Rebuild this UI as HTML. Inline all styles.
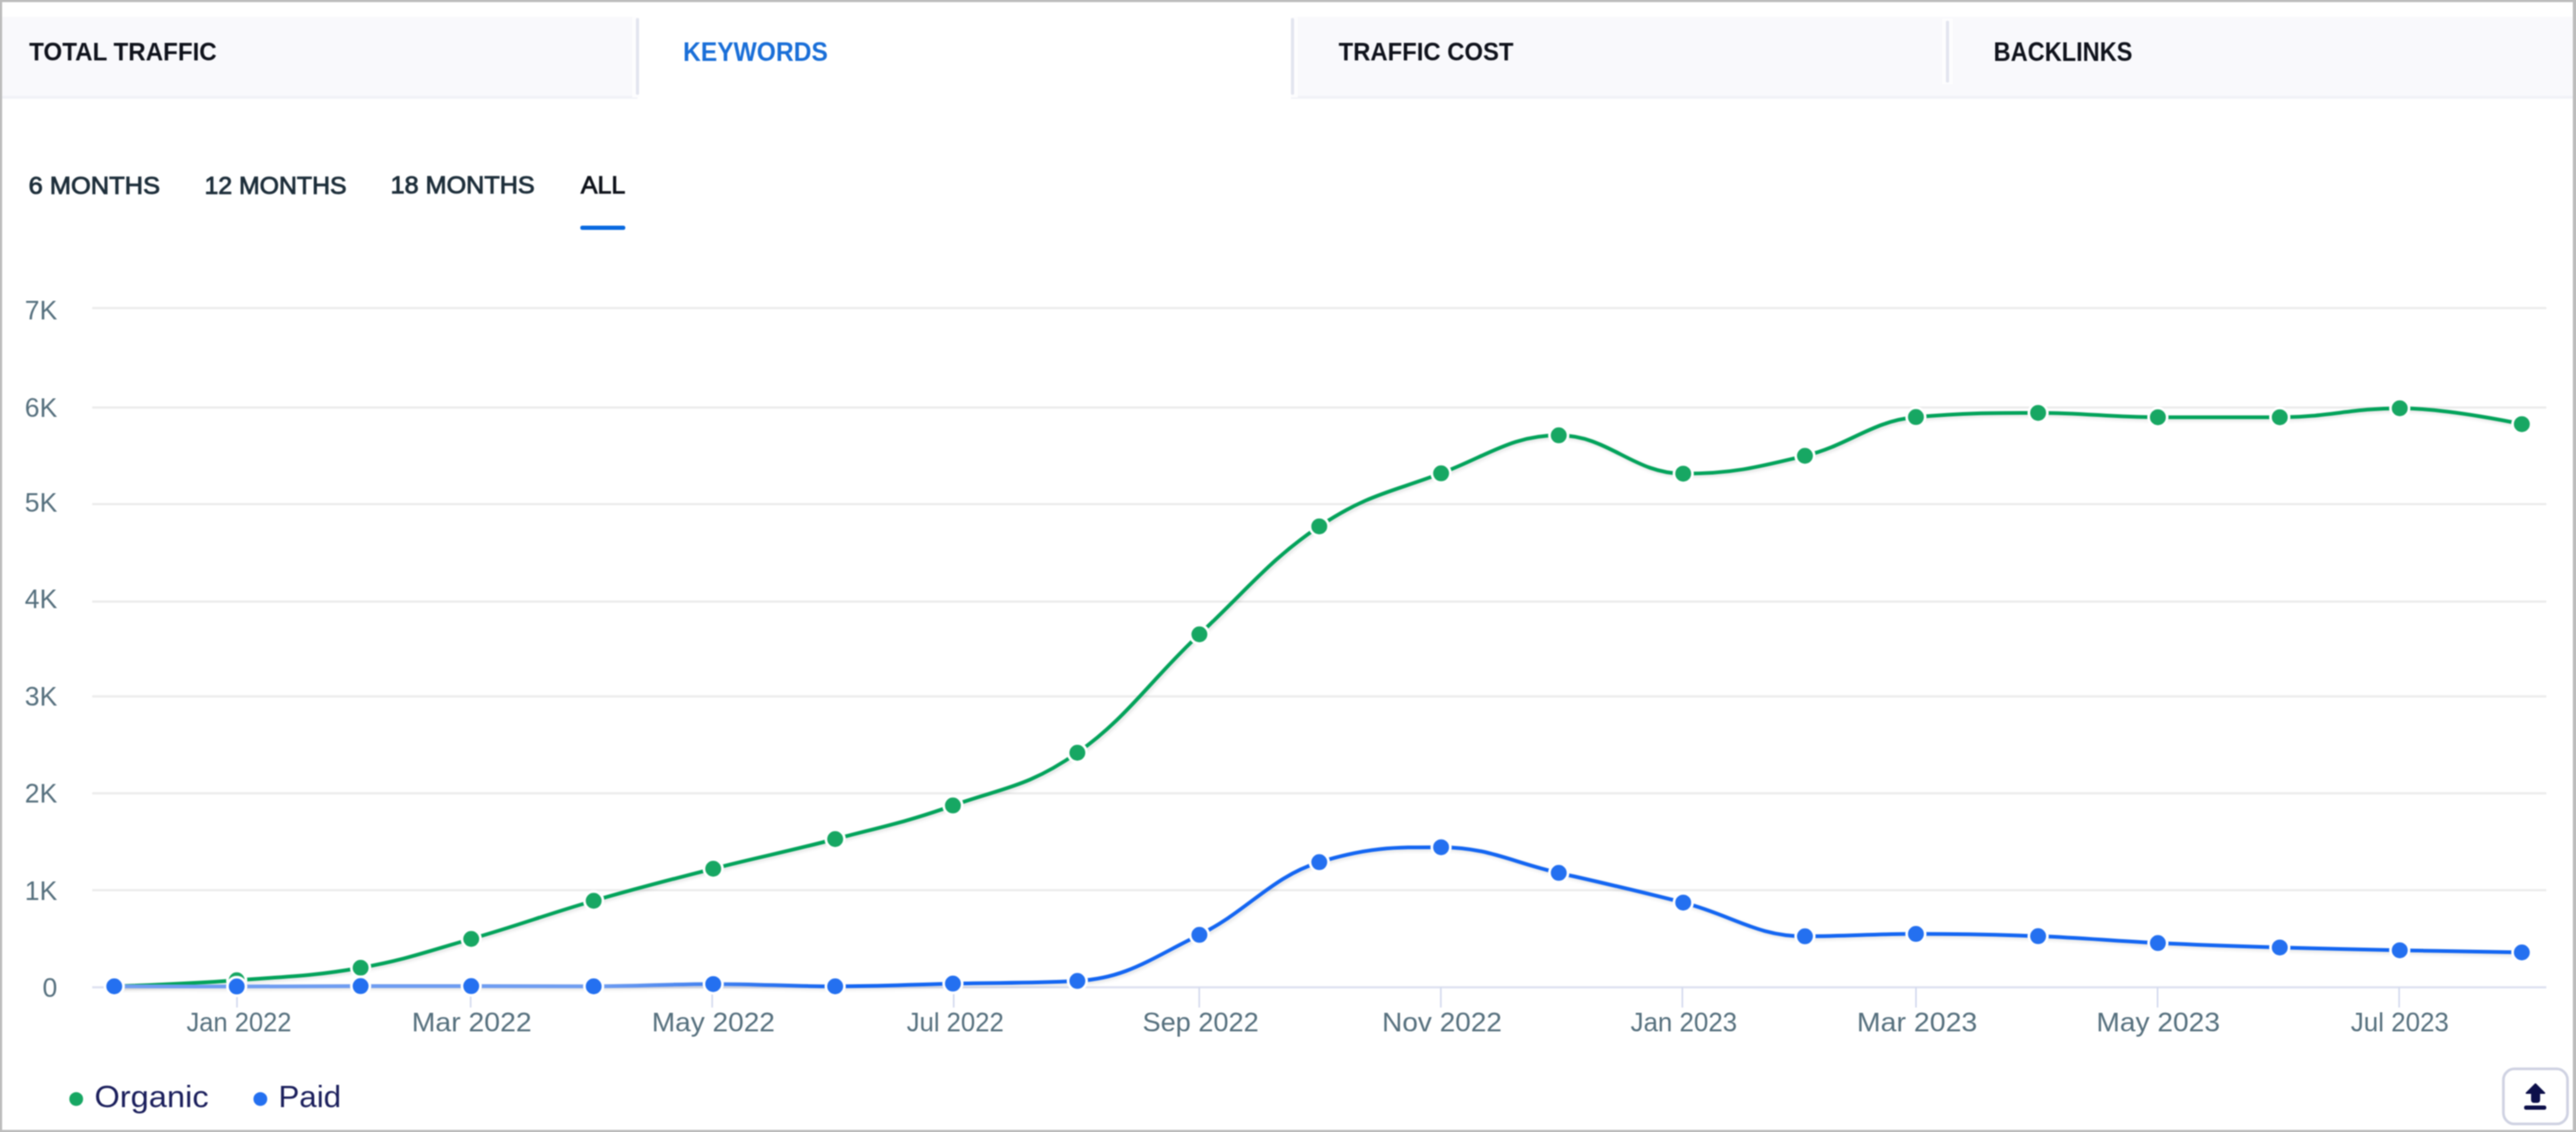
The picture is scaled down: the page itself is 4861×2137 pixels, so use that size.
<!DOCTYPE html><html><head><meta charset="utf-8"><style>html,body{margin:0;padding:0;background:#bdbdbd;overflow:hidden}svg{display:block;filter:blur(0.9px)}</style></head><body>
<svg width="4861" height="2137" viewBox="0 0 4861 2137" font-family="'Liberation Sans', sans-serif">
<rect x="0" y="0" width="4861" height="2137" fill="#bdbdbd"/>
<rect x="4" y="4" width="4851" height="2129" fill="#ffffff"/>
<rect x="4" y="32" width="1199" height="155" fill="#f9f9fc"/>
<rect x="4" y="181" width="1199" height="5" fill="#f1f2f7"/>
<rect x="1193" y="32" width="13" height="152" fill="#fdfdfe"/>
<rect x="1200" y="34" width="6" height="145" rx="3" fill="#e3e5ef"/>
<rect x="2436" y="32" width="2419" height="155" fill="#f9f9fc"/>
<rect x="2436" y="181" width="2419" height="5" fill="#f1f2f7"/>
<rect x="2436" y="32" width="13" height="152" fill="#fdfdfe"/>
<rect x="2436" y="34" width="6" height="145" rx="3" fill="#e3e5ef"/>
<rect x="3665" y="35" width="20" height="124" fill="#fdfdfe"/>
<rect x="3672" y="39" width="6" height="117" rx="3" fill="#e3e5ef"/>
<text x="55.0" y="114.0" font-size="48.0" font-weight="bold" fill="#10131c" textLength="354.0" lengthAdjust="spacingAndGlyphs" >TOTAL TRAFFIC</text>
<text x="1289.0" y="115.0" font-size="49.4" font-weight="bold" fill="#1a6fd8" textLength="273.1" lengthAdjust="spacingAndGlyphs" >KEYWORDS</text>
<text x="2526.0" y="114.0" font-size="48.0" font-weight="bold" fill="#10131c" textLength="330.0" lengthAdjust="spacingAndGlyphs" >TRAFFIC COST</text>
<text x="3762.0" y="115.0" font-size="49.4" font-weight="bold" fill="#10131c" textLength="262.0" lengthAdjust="spacingAndGlyphs" >BACKLINKS</text>
<text x="54.0" y="366.0" font-size="46.5" font-weight="normal" fill="#1e2f3b" textLength="248.0" lengthAdjust="spacingAndGlyphs" stroke="#1e2f3b" stroke-width="1.6">6 MONTHS</text>
<text x="386.0" y="366.0" font-size="46.5" font-weight="normal" fill="#1e2f3b" textLength="268.0" lengthAdjust="spacingAndGlyphs" stroke="#1e2f3b" stroke-width="1.6">12 MONTHS</text>
<text x="737.0" y="365.0" font-size="46.5" font-weight="normal" fill="#1e2f3b" textLength="272.0" lengthAdjust="spacingAndGlyphs" stroke="#1e2f3b" stroke-width="1.6">18 MONTHS</text>
<text x="1096.0" y="365.0" font-size="46.5" font-weight="normal" fill="#0f131b" textLength="84.0" lengthAdjust="spacingAndGlyphs" stroke="#0f131b" stroke-width="1.6">ALL</text>
<rect x="1095" y="426" width="85" height="8" rx="4" fill="#0a6ae0"/>
<rect x="174" y="579.6" width="4631" height="4" fill="#ebebeb"/>
<rect x="174" y="767.3" width="4631" height="4" fill="#ebebeb"/>
<rect x="174" y="949.7" width="4631" height="4" fill="#ebebeb"/>
<rect x="174" y="1133.7" width="4631" height="4" fill="#ebebeb"/>
<rect x="174" y="1312.6" width="4631" height="4" fill="#ebebeb"/>
<rect x="174" y="1495.6" width="4631" height="4" fill="#ebebeb"/>
<rect x="174" y="1678.5" width="4631" height="4" fill="#ebebeb"/>
<rect x="174" y="1861.8" width="4631" height="4" fill="#dde1f0"/>
<text x="108" y="603.2" font-size="50" fill="#56707e" text-anchor="end">7K</text>
<text x="108" y="787.2" font-size="50" fill="#56707e" text-anchor="end">6K</text>
<text x="108" y="966.2" font-size="50" fill="#56707e" text-anchor="end">5K</text>
<text x="108" y="1148.2" font-size="50" fill="#56707e" text-anchor="end">4K</text>
<text x="108" y="1332.2" font-size="50" fill="#56707e" text-anchor="end">3K</text>
<text x="108" y="1515.2" font-size="50" fill="#56707e" text-anchor="end">2K</text>
<text x="108" y="1699.2" font-size="50" fill="#56707e" text-anchor="end">1K</text>
<text x="108" y="1882.2" font-size="50" fill="#56707e" text-anchor="end">0</text>
<rect x="445.7" y="1864" width="3" height="38" fill="#d3d9ee"/>
<text x="352.0" y="1947" font-size="50" fill="#56707e" textLength="198.0" lengthAdjust="spacingAndGlyphs">Jan 2022</text>
<rect x="886.6" y="1864" width="3" height="38" fill="#d3d9ee"/>
<text x="777.0" y="1947" font-size="50" fill="#56707e" textLength="226.2" lengthAdjust="spacingAndGlyphs">Mar 2022</text>
<rect x="1342.4" y="1864" width="3" height="38" fill="#d3d9ee"/>
<text x="1230.0" y="1947" font-size="50" fill="#56707e" textLength="232.2" lengthAdjust="spacingAndGlyphs">May 2022</text>
<rect x="1798.2" y="1864" width="3" height="38" fill="#d3d9ee"/>
<text x="1711.0" y="1947" font-size="50" fill="#56707e" textLength="183.1" lengthAdjust="spacingAndGlyphs">Jul 2022</text>
<rect x="2261.5" y="1864" width="3" height="38" fill="#d3d9ee"/>
<text x="2156.0" y="1947" font-size="50" fill="#56707e" textLength="219.2" lengthAdjust="spacingAndGlyphs">Sep 2022</text>
<rect x="2717.4" y="1864" width="3" height="38" fill="#d3d9ee"/>
<text x="2608.0" y="1947" font-size="50" fill="#56707e" textLength="226.2" lengthAdjust="spacingAndGlyphs">Nov 2022</text>
<rect x="3173.2" y="1864" width="3" height="38" fill="#d3d9ee"/>
<text x="3077.0" y="1947" font-size="50" fill="#56707e" textLength="201.0" lengthAdjust="spacingAndGlyphs">Jan 2023</text>
<rect x="3614.0" y="1864" width="3" height="38" fill="#d3d9ee"/>
<text x="3504.0" y="1947" font-size="50" fill="#56707e" textLength="227.2" lengthAdjust="spacingAndGlyphs">Mar 2023</text>
<rect x="4069.9" y="1864" width="3" height="38" fill="#d3d9ee"/>
<text x="3956.0" y="1947" font-size="50" fill="#56707e" textLength="233.2" lengthAdjust="spacingAndGlyphs">May 2023</text>
<rect x="4525.7" y="1864" width="3" height="38" fill="#d3d9ee"/>
<text x="4436.0" y="1947" font-size="50" fill="#56707e" textLength="185.1" lengthAdjust="spacingAndGlyphs">Jul 2023</text>
<path d="M 215.60 1862.00 C 215.60 1862.00 354.26 1857.46 446.70 1850.50 C 540.22 1843.46 586.98 1843.48 680.50 1827.00 C 763.98 1812.28 805.72 1796.51 889.20 1772.50 C 981.64 1745.91 1027.86 1727.32 1120.30 1700.50 C 1210.54 1674.32 1255.66 1663.07 1345.90 1640.00 C 1437.94 1616.47 1483.96 1608.30 1576.00 1584.00 C 1664.88 1560.54 1709.32 1552.30 1798.20 1520.60 C 1892.12 1487.10 1939.08 1486.25 2033.00 1421.00 C 2125.12 1357.01 2171.18 1283.73 2263.30 1197.50 C 2353.78 1112.81 2399.02 1053.99 2489.50 993.70 C 2581.46 932.43 2627.44 928.58 2719.40 893.60 C 2808.20 859.82 2852.60 821.80 2941.40 821.80 C 3035.36 821.80 3082.34 894.20 3176.30 894.20 C 3268.18 894.20 3314.12 882.87 3406.00 860.50 C 3489.76 840.11 3531.64 795.20 3615.40 787.30 C 3707.64 779.40 3753.76 779.40 3846.00 779.40 C 3936.40 779.40 3981.60 787.70 4072.00 787.70 C 4164.00 787.70 4210.00 787.70 4302.00 787.70 C 4392.56 787.70 4437.84 770.70 4528.40 770.70 C 4620.56 770.70 4758.80 800.70 4758.80 800.70" fill="none" stroke="#000" stroke-opacity="0.015" stroke-width="18" transform="translate(3,3)" stroke-linejoin="round"/>
<path d="M 215.60 1862.00 C 215.60 1862.00 354.26 1857.46 446.70 1850.50 C 540.22 1843.46 586.98 1843.48 680.50 1827.00 C 763.98 1812.28 805.72 1796.51 889.20 1772.50 C 981.64 1745.91 1027.86 1727.32 1120.30 1700.50 C 1210.54 1674.32 1255.66 1663.07 1345.90 1640.00 C 1437.94 1616.47 1483.96 1608.30 1576.00 1584.00 C 1664.88 1560.54 1709.32 1552.30 1798.20 1520.60 C 1892.12 1487.10 1939.08 1486.25 2033.00 1421.00 C 2125.12 1357.01 2171.18 1283.73 2263.30 1197.50 C 2353.78 1112.81 2399.02 1053.99 2489.50 993.70 C 2581.46 932.43 2627.44 928.58 2719.40 893.60 C 2808.20 859.82 2852.60 821.80 2941.40 821.80 C 3035.36 821.80 3082.34 894.20 3176.30 894.20 C 3268.18 894.20 3314.12 882.87 3406.00 860.50 C 3489.76 840.11 3531.64 795.20 3615.40 787.30 C 3707.64 779.40 3753.76 779.40 3846.00 779.40 C 3936.40 779.40 3981.60 787.70 4072.00 787.70 C 4164.00 787.70 4210.00 787.70 4302.00 787.70 C 4392.56 787.70 4437.84 770.70 4528.40 770.70 C 4620.56 770.70 4758.80 800.70 4758.80 800.70" fill="none" stroke="#000" stroke-opacity="0.025" stroke-width="12" transform="translate(3,3)" stroke-linejoin="round"/>
<path d="M 215.60 1862.00 C 215.60 1862.00 354.26 1857.46 446.70 1850.50 C 540.22 1843.46 586.98 1843.48 680.50 1827.00 C 763.98 1812.28 805.72 1796.51 889.20 1772.50 C 981.64 1745.91 1027.86 1727.32 1120.30 1700.50 C 1210.54 1674.32 1255.66 1663.07 1345.90 1640.00 C 1437.94 1616.47 1483.96 1608.30 1576.00 1584.00 C 1664.88 1560.54 1709.32 1552.30 1798.20 1520.60 C 1892.12 1487.10 1939.08 1486.25 2033.00 1421.00 C 2125.12 1357.01 2171.18 1283.73 2263.30 1197.50 C 2353.78 1112.81 2399.02 1053.99 2489.50 993.70 C 2581.46 932.43 2627.44 928.58 2719.40 893.60 C 2808.20 859.82 2852.60 821.80 2941.40 821.80 C 3035.36 821.80 3082.34 894.20 3176.30 894.20 C 3268.18 894.20 3314.12 882.87 3406.00 860.50 C 3489.76 840.11 3531.64 795.20 3615.40 787.30 C 3707.64 779.40 3753.76 779.40 3846.00 779.40 C 3936.40 779.40 3981.60 787.70 4072.00 787.70 C 4164.00 787.70 4210.00 787.70 4302.00 787.70 C 4392.56 787.70 4437.84 770.70 4528.40 770.70 C 4620.56 770.70 4758.80 800.70 4758.80 800.70" fill="none" stroke="#000" stroke-opacity="0.035" stroke-width="8" transform="translate(3,3)" stroke-linejoin="round"/>
<path d="M 215.60 1862.00 C 215.60 1862.00 354.26 1857.46 446.70 1850.50 C 540.22 1843.46 586.98 1843.48 680.50 1827.00 C 763.98 1812.28 805.72 1796.51 889.20 1772.50 C 981.64 1745.91 1027.86 1727.32 1120.30 1700.50 C 1210.54 1674.32 1255.66 1663.07 1345.90 1640.00 C 1437.94 1616.47 1483.96 1608.30 1576.00 1584.00 C 1664.88 1560.54 1709.32 1552.30 1798.20 1520.60 C 1892.12 1487.10 1939.08 1486.25 2033.00 1421.00 C 2125.12 1357.01 2171.18 1283.73 2263.30 1197.50 C 2353.78 1112.81 2399.02 1053.99 2489.50 993.70 C 2581.46 932.43 2627.44 928.58 2719.40 893.60 C 2808.20 859.82 2852.60 821.80 2941.40 821.80 C 3035.36 821.80 3082.34 894.20 3176.30 894.20 C 3268.18 894.20 3314.12 882.87 3406.00 860.50 C 3489.76 840.11 3531.64 795.20 3615.40 787.30 C 3707.64 779.40 3753.76 779.40 3846.00 779.40 C 3936.40 779.40 3981.60 787.70 4072.00 787.70 C 4164.00 787.70 4210.00 787.70 4302.00 787.70 C 4392.56 787.70 4437.84 770.70 4528.40 770.70 C 4620.56 770.70 4758.80 800.70 4758.80 800.70" fill="none" stroke="#03a35b" stroke-width="7" stroke-linecap="round" stroke-linejoin="round"/>
<circle cx="215.6" cy="1862.0" r="17.5" fill="#17a763" stroke="#fff" stroke-width="5"/>
<circle cx="446.7" cy="1850.5" r="17.5" fill="#17a763" stroke="#fff" stroke-width="5"/>
<circle cx="680.5" cy="1827.0" r="17.5" fill="#17a763" stroke="#fff" stroke-width="5"/>
<circle cx="889.2" cy="1772.5" r="17.5" fill="#17a763" stroke="#fff" stroke-width="5"/>
<circle cx="1120.3" cy="1700.5" r="17.5" fill="#17a763" stroke="#fff" stroke-width="5"/>
<circle cx="1345.9" cy="1640.0" r="17.5" fill="#17a763" stroke="#fff" stroke-width="5"/>
<circle cx="1576.0" cy="1584.0" r="17.5" fill="#17a763" stroke="#fff" stroke-width="5"/>
<circle cx="1798.2" cy="1520.6" r="17.5" fill="#17a763" stroke="#fff" stroke-width="5"/>
<circle cx="2033.0" cy="1421.0" r="17.5" fill="#17a763" stroke="#fff" stroke-width="5"/>
<circle cx="2263.3" cy="1197.5" r="17.5" fill="#17a763" stroke="#fff" stroke-width="5"/>
<circle cx="2489.5" cy="993.7" r="17.5" fill="#17a763" stroke="#fff" stroke-width="5"/>
<circle cx="2719.4" cy="893.6" r="17.5" fill="#17a763" stroke="#fff" stroke-width="5"/>
<circle cx="2941.4" cy="821.8" r="17.5" fill="#17a763" stroke="#fff" stroke-width="5"/>
<circle cx="3176.3" cy="894.2" r="17.5" fill="#17a763" stroke="#fff" stroke-width="5"/>
<circle cx="3406.0" cy="860.5" r="17.5" fill="#17a763" stroke="#fff" stroke-width="5"/>
<circle cx="3615.4" cy="787.3" r="17.5" fill="#17a763" stroke="#fff" stroke-width="5"/>
<circle cx="3846.0" cy="779.4" r="17.5" fill="#17a763" stroke="#fff" stroke-width="5"/>
<circle cx="4072.0" cy="787.7" r="17.5" fill="#17a763" stroke="#fff" stroke-width="5"/>
<circle cx="4302.0" cy="787.7" r="17.5" fill="#17a763" stroke="#fff" stroke-width="5"/>
<circle cx="4528.4" cy="770.7" r="17.5" fill="#17a763" stroke="#fff" stroke-width="5"/>
<circle cx="4758.8" cy="800.7" r="17.5" fill="#17a763" stroke="#fff" stroke-width="5"/>
<path d="M 215.60 1862.00 C 215.60 1862.00 354.26 1862.30 446.70 1862.30 C 540.22 1862.30 586.98 1861.60 680.50 1861.60 C 763.98 1861.60 805.72 1861.60 889.20 1861.60 C 981.64 1861.60 1027.86 1862.00 1120.30 1862.00 C 1210.54 1862.00 1255.66 1857.70 1345.90 1857.70 C 1437.94 1857.70 1483.96 1862.00 1576.00 1862.00 C 1664.88 1862.00 1709.32 1858.78 1798.20 1856.80 C 1892.12 1854.70 1939.08 1856.80 2033.00 1851.80 C 2125.12 1846.80 2171.18 1810.04 2263.30 1764.80 C 2353.78 1720.36 2399.02 1655.80 2489.50 1627.60 C 2581.46 1599.40 2627.44 1599.40 2719.40 1599.40 C 2808.20 1599.40 2852.60 1627.49 2941.40 1647.80 C 3035.36 1669.29 3082.34 1679.67 3176.30 1703.90 C 3268.18 1727.59 3314.12 1767.60 3406.00 1767.60 C 3489.76 1767.60 3531.64 1763.10 3615.40 1763.10 C 3707.64 1763.10 3753.76 1763.83 3846.00 1767.30 C 3936.40 1770.71 3981.60 1776.06 4072.00 1780.30 C 4164.00 1784.62 4210.00 1785.96 4302.00 1788.70 C 4392.56 1791.40 4437.84 1792.06 4528.40 1793.90 C 4620.56 1795.78 4758.80 1798.00 4758.80 1798.00" fill="none" stroke="#000" stroke-opacity="0.015" stroke-width="18" transform="translate(3,3)" stroke-linejoin="round"/>
<path d="M 215.60 1862.00 C 215.60 1862.00 354.26 1862.30 446.70 1862.30 C 540.22 1862.30 586.98 1861.60 680.50 1861.60 C 763.98 1861.60 805.72 1861.60 889.20 1861.60 C 981.64 1861.60 1027.86 1862.00 1120.30 1862.00 C 1210.54 1862.00 1255.66 1857.70 1345.90 1857.70 C 1437.94 1857.70 1483.96 1862.00 1576.00 1862.00 C 1664.88 1862.00 1709.32 1858.78 1798.20 1856.80 C 1892.12 1854.70 1939.08 1856.80 2033.00 1851.80 C 2125.12 1846.80 2171.18 1810.04 2263.30 1764.80 C 2353.78 1720.36 2399.02 1655.80 2489.50 1627.60 C 2581.46 1599.40 2627.44 1599.40 2719.40 1599.40 C 2808.20 1599.40 2852.60 1627.49 2941.40 1647.80 C 3035.36 1669.29 3082.34 1679.67 3176.30 1703.90 C 3268.18 1727.59 3314.12 1767.60 3406.00 1767.60 C 3489.76 1767.60 3531.64 1763.10 3615.40 1763.10 C 3707.64 1763.10 3753.76 1763.83 3846.00 1767.30 C 3936.40 1770.71 3981.60 1776.06 4072.00 1780.30 C 4164.00 1784.62 4210.00 1785.96 4302.00 1788.70 C 4392.56 1791.40 4437.84 1792.06 4528.40 1793.90 C 4620.56 1795.78 4758.80 1798.00 4758.80 1798.00" fill="none" stroke="#000" stroke-opacity="0.025" stroke-width="12" transform="translate(3,3)" stroke-linejoin="round"/>
<path d="M 215.60 1862.00 C 215.60 1862.00 354.26 1862.30 446.70 1862.30 C 540.22 1862.30 586.98 1861.60 680.50 1861.60 C 763.98 1861.60 805.72 1861.60 889.20 1861.60 C 981.64 1861.60 1027.86 1862.00 1120.30 1862.00 C 1210.54 1862.00 1255.66 1857.70 1345.90 1857.70 C 1437.94 1857.70 1483.96 1862.00 1576.00 1862.00 C 1664.88 1862.00 1709.32 1858.78 1798.20 1856.80 C 1892.12 1854.70 1939.08 1856.80 2033.00 1851.80 C 2125.12 1846.80 2171.18 1810.04 2263.30 1764.80 C 2353.78 1720.36 2399.02 1655.80 2489.50 1627.60 C 2581.46 1599.40 2627.44 1599.40 2719.40 1599.40 C 2808.20 1599.40 2852.60 1627.49 2941.40 1647.80 C 3035.36 1669.29 3082.34 1679.67 3176.30 1703.90 C 3268.18 1727.59 3314.12 1767.60 3406.00 1767.60 C 3489.76 1767.60 3531.64 1763.10 3615.40 1763.10 C 3707.64 1763.10 3753.76 1763.83 3846.00 1767.30 C 3936.40 1770.71 3981.60 1776.06 4072.00 1780.30 C 4164.00 1784.62 4210.00 1785.96 4302.00 1788.70 C 4392.56 1791.40 4437.84 1792.06 4528.40 1793.90 C 4620.56 1795.78 4758.80 1798.00 4758.80 1798.00" fill="none" stroke="#000" stroke-opacity="0.035" stroke-width="8" transform="translate(3,3)" stroke-linejoin="round"/>
<defs><linearGradient id="pg" gradientUnits="userSpaceOnUse" x1="216" y1="0" x2="4759" y2="0"><stop offset="0" stop-color="#6f9df1"/><stop offset="0.20" stop-color="#6f9df1"/><stop offset="0.25" stop-color="#3f7ff0"/><stop offset="0.30" stop-color="#1466f2"/><stop offset="1" stop-color="#1466f2"/></linearGradient></defs>
<path d="M 215.60 1862.00 C 215.60 1862.00 354.26 1862.30 446.70 1862.30 C 540.22 1862.30 586.98 1861.60 680.50 1861.60 C 763.98 1861.60 805.72 1861.60 889.20 1861.60 C 981.64 1861.60 1027.86 1862.00 1120.30 1862.00 C 1210.54 1862.00 1255.66 1857.70 1345.90 1857.70 C 1437.94 1857.70 1483.96 1862.00 1576.00 1862.00 C 1664.88 1862.00 1709.32 1858.78 1798.20 1856.80 C 1892.12 1854.70 1939.08 1856.80 2033.00 1851.80 C 2125.12 1846.80 2171.18 1810.04 2263.30 1764.80 C 2353.78 1720.36 2399.02 1655.80 2489.50 1627.60 C 2581.46 1599.40 2627.44 1599.40 2719.40 1599.40 C 2808.20 1599.40 2852.60 1627.49 2941.40 1647.80 C 3035.36 1669.29 3082.34 1679.67 3176.30 1703.90 C 3268.18 1727.59 3314.12 1767.60 3406.00 1767.60 C 3489.76 1767.60 3531.64 1763.10 3615.40 1763.10 C 3707.64 1763.10 3753.76 1763.83 3846.00 1767.30 C 3936.40 1770.71 3981.60 1776.06 4072.00 1780.30 C 4164.00 1784.62 4210.00 1785.96 4302.00 1788.70 C 4392.56 1791.40 4437.84 1792.06 4528.40 1793.90 C 4620.56 1795.78 4758.80 1798.00 4758.80 1798.00" fill="none" stroke="url(#pg)" stroke-width="7" stroke-linecap="round" stroke-linejoin="round"/>
<circle cx="215.6" cy="1862.0" r="17.5" fill="#2470f0" stroke="#fff" stroke-width="5"/>
<circle cx="446.7" cy="1862.3" r="17.5" fill="#2470f0" stroke="#fff" stroke-width="5"/>
<circle cx="680.5" cy="1861.6" r="17.5" fill="#2470f0" stroke="#fff" stroke-width="5"/>
<circle cx="889.2" cy="1861.6" r="17.5" fill="#2470f0" stroke="#fff" stroke-width="5"/>
<circle cx="1120.3" cy="1862.0" r="17.5" fill="#2470f0" stroke="#fff" stroke-width="5"/>
<circle cx="1345.9" cy="1857.7" r="17.5" fill="#2470f0" stroke="#fff" stroke-width="5"/>
<circle cx="1576.0" cy="1862.0" r="17.5" fill="#2470f0" stroke="#fff" stroke-width="5"/>
<circle cx="1798.2" cy="1856.8" r="17.5" fill="#2470f0" stroke="#fff" stroke-width="5"/>
<circle cx="2033.0" cy="1851.8" r="17.5" fill="#2470f0" stroke="#fff" stroke-width="5"/>
<circle cx="2263.3" cy="1764.8" r="17.5" fill="#2470f0" stroke="#fff" stroke-width="5"/>
<circle cx="2489.5" cy="1627.6" r="17.5" fill="#2470f0" stroke="#fff" stroke-width="5"/>
<circle cx="2719.4" cy="1599.4" r="17.5" fill="#2470f0" stroke="#fff" stroke-width="5"/>
<circle cx="2941.4" cy="1647.8" r="17.5" fill="#2470f0" stroke="#fff" stroke-width="5"/>
<circle cx="3176.3" cy="1703.9" r="17.5" fill="#2470f0" stroke="#fff" stroke-width="5"/>
<circle cx="3406.0" cy="1767.6" r="17.5" fill="#2470f0" stroke="#fff" stroke-width="5"/>
<circle cx="3615.4" cy="1763.1" r="17.5" fill="#2470f0" stroke="#fff" stroke-width="5"/>
<circle cx="3846.0" cy="1767.3" r="17.5" fill="#2470f0" stroke="#fff" stroke-width="5"/>
<circle cx="4072.0" cy="1780.3" r="17.5" fill="#2470f0" stroke="#fff" stroke-width="5"/>
<circle cx="4302.0" cy="1788.7" r="17.5" fill="#2470f0" stroke="#fff" stroke-width="5"/>
<circle cx="4528.4" cy="1793.9" r="17.5" fill="#2470f0" stroke="#fff" stroke-width="5"/>
<circle cx="4758.8" cy="1798.0" r="17.5" fill="#2470f0" stroke="#fff" stroke-width="5"/>
<circle cx="143.8" cy="2074.7" r="13" fill="#17a763"/>
<circle cx="491.3" cy="2074.7" r="13" fill="#2470f0"/>
<text x="178.2" y="2090.0" font-size="58.1" font-weight="normal" fill="#1b1f5c" textLength="215.5" lengthAdjust="spacingAndGlyphs" >Organic</text>
<text x="525.4" y="2090.0" font-size="58.1" font-weight="normal" fill="#1b1f5c" textLength="118.3" lengthAdjust="spacingAndGlyphs" >Paid</text>
<rect x="4724" y="2017.8" width="121" height="104" rx="21" fill="#fff" stroke="#cfd2e2" stroke-width="5"/>
<path d="M 4784.5 2046.5 L 4801.5 2063.5 L 4791.8 2063.5 L 4791.8 2076 Q 4791.8 2080.5 4787.3 2080.5 L 4782.2 2080.5 Q 4777.7 2080.5 4777.7 2076 L 4777.7 2063.5 L 4767.5 2063.5 Z" fill="#0d104a" stroke="#0d104a" stroke-width="3" stroke-linejoin="round"/>
<rect x="4763" y="2087" width="42" height="8" rx="4" fill="#0d104a"/>
</svg></body></html>
